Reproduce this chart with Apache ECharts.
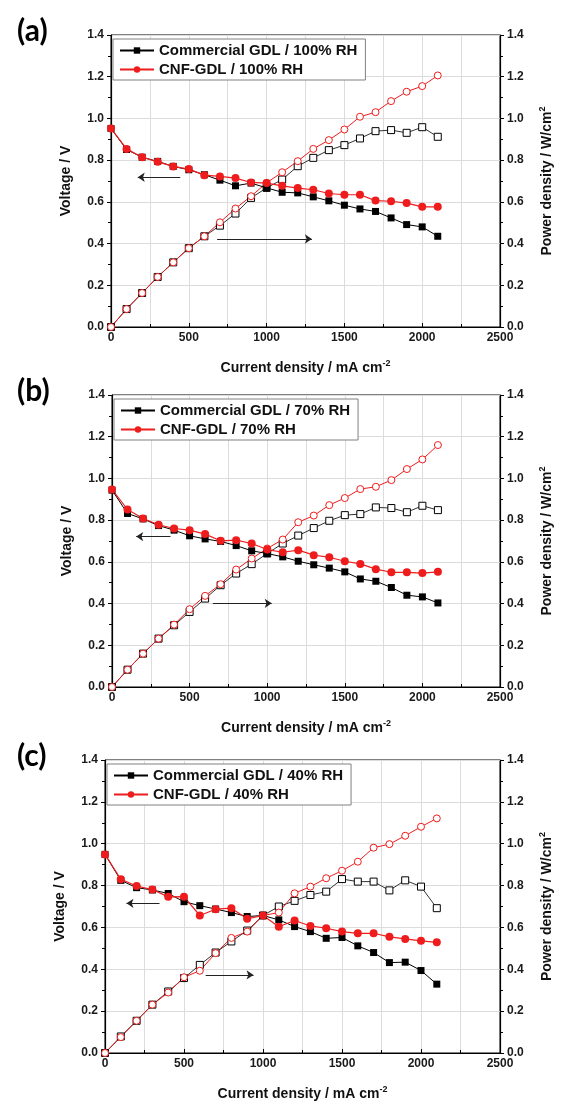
<!DOCTYPE html>
<html>
<head>
<meta charset="utf-8">
<script src="https://cdn.jsdelivr.net/npm/echarts@6/dist/echarts.min.js"></script>
<style>
  html, body { margin: 0; padding: 0; background: #fff; }
  #chart { width: 562px; height: 1111px; }
</style>
</head>
<body>
<div id="chart"></div>
<script>
// current density, mA cm-2
var current = [0, 100, 200, 300, 400, 500, 600, 700, 800, 900, 1000, 1100, 1200, 1300, 1400, 1500, 1600, 1700, 1800, 1900, 2000, 2100];
var panelLabels = ['(a)', '(b)', '(c)'];
var rhLabels = ['100% RH', '70% RH', '40% RH'];

// (a) 100% RH
var voltCommA = [0.952, 0.851, 0.814, 0.794, 0.770, 0.754, 0.730, 0.704, 0.677, 0.690, 0.667, 0.646, 0.643, 0.624, 0.605, 0.584, 0.566, 0.554, 0.523, 0.491, 0.480, 0.435];
var voltCnfA = [0.952, 0.854, 0.814, 0.792, 0.770, 0.757, 0.728, 0.722, 0.714, 0.693, 0.690, 0.677, 0.666, 0.658, 0.640, 0.634, 0.634, 0.606, 0.603, 0.594, 0.576, 0.576];
var powCommA = [0, 0.086, 0.163, 0.240, 0.310, 0.378, 0.435, 0.486, 0.544, 0.619, 0.667, 0.707, 0.771, 0.811, 0.848, 0.872, 0.904, 0.939, 0.944, 0.931, 0.958, 0.912];
var powCnfA = [0, 0.086, 0.163, 0.240, 0.310, 0.378, 0.435, 0.502, 0.568, 0.627, 0.691, 0.742, 0.795, 0.854, 0.896, 0.947, 1.008, 1.030, 1.083, 1.128, 1.155, 1.206];

// (b) 70% RH
var voltCommB = [0.944, 0.832, 0.806, 0.774, 0.752, 0.725, 0.710, 0.698, 0.678, 0.653, 0.640, 0.624, 0.603, 0.586, 0.570, 0.552, 0.518, 0.507, 0.477, 0.440, 0.432, 0.403];
var voltCnfB = [0.947, 0.851, 0.808, 0.778, 0.760, 0.752, 0.733, 0.701, 0.704, 0.688, 0.659, 0.646, 0.656, 0.632, 0.622, 0.603, 0.590, 0.565, 0.550, 0.550, 0.546, 0.552];
var powCommB = [0, 0.083, 0.160, 0.232, 0.296, 0.360, 0.424, 0.488, 0.544, 0.589, 0.640, 0.688, 0.726, 0.762, 0.797, 0.824, 0.829, 0.861, 0.858, 0.838, 0.869, 0.848];
var powCnfB = [0, 0.083, 0.160, 0.232, 0.299, 0.373, 0.437, 0.493, 0.563, 0.616, 0.664, 0.707, 0.790, 0.822, 0.872, 0.906, 0.949, 0.960, 0.992, 1.045, 1.091, 1.160];

// (c) 40% RH
var voltCommC = [0.949, 0.825, 0.790, 0.779, 0.762, 0.723, 0.704, 0.688, 0.671, 0.652, 0.657, 0.636, 0.604, 0.580, 0.548, 0.552, 0.512, 0.480, 0.432, 0.434, 0.394, 0.329];
var voltCnfC = [0.949, 0.830, 0.798, 0.781, 0.746, 0.747, 0.657, 0.687, 0.692, 0.641, 0.657, 0.603, 0.633, 0.607, 0.596, 0.580, 0.572, 0.572, 0.555, 0.545, 0.536, 0.529];
var powCommC = [0, 0.079, 0.154, 0.231, 0.294, 0.358, 0.421, 0.480, 0.533, 0.585, 0.657, 0.700, 0.727, 0.755, 0.771, 0.831, 0.819, 0.819, 0.777, 0.825, 0.795, 0.692];
var powCnfC = [0, 0.076, 0.154, 0.231, 0.289, 0.362, 0.393, 0.477, 0.550, 0.580, 0.657, 0.671, 0.763, 0.795, 0.835, 0.871, 0.914, 0.981, 0.998, 1.038, 1.081, 1.121];

// arrows pointing to the axis each curve belongs to: [xFrom, xTo, y]
var leftArrows = [[445, 172, 0.718], [377, 156, 0.721], [345, 136, 0.715]];
var rightArrows = [[682, 1291, 0.422], [650, 1029, 0.401], [637, 940, 0.373]];

var volts = [[voltCommA, voltCnfA], [voltCommB, voltCnfB], [voltCommC, voltCnfC]];
var pows = [[powCommA, powCnfA], [powCommB, powCnfB], [powCommC, powCnfC]];

var grids = [
  { left: 111, top: 35, width: 397, height: 292 },
  { left: 112, top: 395, width: 396, height: 292 },
  { left: 105, top: 760, width: 399, height: 293 }
];

var FONT = 'Liberation Sans';
var RED = '#ee1c1c';

function pairs (ys) {
  return current.map(function (x, k) { return [x, ys[k]] })
}

function arrowLine (a) {
  return {
    silent: true,
    symbol: ['none', 'arrow'],
    symbolSize: 7,
    label: { show: false },
    lineStyle: { color: '#222', width: 1, type: 'solid' },
    data: [[{ coord: [a[0], a[2]] }, { coord: [a[1], a[2]] }]]
  }
}

var chart = echarts.init(document.getElementById('chart'))

var option = {
  animation: false,
  backgroundColor: '#fff',
  title: [],
  legend: [],
  grid: [],
  xAxis: [],
  yAxis: [],
  series: []
}

var tickLabel = { fontSize: 12, fontWeight: 'bold', color: '#1a1a1a', fontFamily: FONT }
var axisName = { fontSize: 14, fontWeight: 'bold', color: '#111', fontFamily: FONT }
var supStyle = { fontSize: 9, fontWeight: 'bold', fontFamily: FONT, color: '#111', verticalAlign: 'top', lineHeight: 18 }

for (var i = 0; i < 3; i++) {
  var g = grids[i]
  option.grid.push({
    left: g.left, top: g.top, width: g.width, height: g.height,
    show: true, borderColor: '#000', borderWidth: 1, backgroundColor: 'transparent'
  })
  option.title.push({
    text: panelLabels[i],
    left: 12,
    top: g.top - 24,
    textStyle: { fontSize: 30, fontWeight: 'bold', fontFamily: 'Lato', color: '#000' }
  })
  option.xAxis.push({
    gridIndex: i, type: 'value', min: 0, max: 2500, interval: 500,
    axisLine: { show: true, lineStyle: { color: '#000', width: 1.2 } },
    axisTick: { show: true, inside: true, length: 4, lineStyle: { color: '#000' } },
    minorTick: { show: true, splitNumber: 2, length: 3, lineStyle: { color: '#000' } },
    splitLine: { show: true, lineStyle: { color: '#dcdcdc' } },
    minorSplitLine: { show: true, lineStyle: { color: '#dcdcdc' } },
    axisLabel: Object.assign({ margin: 5, formatter: function (v) { return String(v) } }, tickLabel),
    name: '{t|Current density / mA cm}{s|-2}',
    nameLocation: 'middle',
    nameGap: 32,
    nameTextStyle: {
      rich: { t: Object.assign({ lineHeight: 18 }, axisName), s: supStyle }
    }
  })
  option.yAxis.push({
    gridIndex: i, type: 'value', min: 0, max: 1.4, interval: 0.2, position: 'left',
    axisLine: { show: true, lineStyle: { color: '#000', width: 1.2 } },
    axisTick: { show: true, length: 4, lineStyle: { color: '#000' } },
    minorTick: { show: true, splitNumber: 2, length: 3, lineStyle: { color: '#000' } },
    splitLine: { show: true, lineStyle: { color: '#dcdcdc' } },
    axisLabel: Object.assign({ margin: 7, formatter: function (v) { return v.toFixed(1) } }, tickLabel),
    name: 'Voltage / V',
    nameLocation: 'middle',
    nameGap: 38,
    nameTextStyle: axisName
  })
  option.yAxis.push({
    gridIndex: i, type: 'value', min: 0, max: 1.4, interval: 0.2, position: 'right',
    axisLine: { show: true, lineStyle: { color: '#000', width: 1.2 } },
    axisTick: { show: true, length: 4, lineStyle: { color: '#000' } },
    minorTick: { show: true, splitNumber: 2, length: 3, lineStyle: { color: '#000' } },
    splitLine: { show: false },
    axisLabel: Object.assign({ margin: 7, formatter: function (v) { return v.toFixed(1) } }, tickLabel),
    name: '{t|Power density / W/cm}{s|2}',
    nameLocation: 'middle',
    nameGap: 38,
    nameRotate: 90,
    nameTextStyle: {
      rich: { t: Object.assign({ lineHeight: 18 }, axisName), s: supStyle }
    }
  })

  var commName = 'Commercial GDL / ' + rhLabels[i]
  var cnfName = 'CNF-GDL / ' + rhLabels[i]

  option.legend.push({
    data: [commName, cnfName],
    orient: 'vertical',
    left: g.left + 2,
    top: g.top + 4,
    itemWidth: 34,
    itemHeight: 8,
    itemGap: 4,
    padding: [4, 8, 3, 6],
    borderColor: '#808080',
    borderWidth: 1,
    backgroundColor: '#fff',
    textStyle: { fontSize: 15, fontWeight: 'bold', fontFamily: FONT, color: '#111' }
  })

  // power density (right axis), open symbols
  option.series.push({
    name: commName + ' P', type: 'line', xAxisIndex: i, yAxisIndex: 2 * i + 1,
    data: pairs(pows[i][0]), symbol: 'rect', symbolSize: 7,
    itemStyle: { color: '#fff', borderColor: '#000', borderWidth: 1 },
    lineStyle: { color: '#333', width: 1 },
    markLine: arrowLine(rightArrows[i])
  })
  option.series.push({
    name: cnfName + ' P', type: 'line', xAxisIndex: i, yAxisIndex: 2 * i + 1,
    data: pairs(pows[i][1]), symbol: 'circle', symbolSize: 7,
    itemStyle: { color: '#fff', borderColor: RED, borderWidth: 1 },
    lineStyle: { color: RED, width: 1 }
  })
  // voltage (left axis), filled symbols
  option.series.push({
    name: commName, type: 'line', xAxisIndex: i, yAxisIndex: 2 * i,
    data: pairs(volts[i][0]), symbol: 'rect', symbolSize: 7,
    itemStyle: { color: '#000' },
    lineStyle: { color: '#000', width: 1 },
    markLine: arrowLine(leftArrows[i])
  })
  option.series.push({
    name: cnfName, type: 'line', xAxisIndex: i, yAxisIndex: 2 * i,
    data: pairs(volts[i][1]), symbol: 'circle', symbolSize: 8,
    itemStyle: { color: RED },
    lineStyle: { color: RED, width: 1.2 }
  })
}

chart.setOption(option)
</script>
</body>
</html>
